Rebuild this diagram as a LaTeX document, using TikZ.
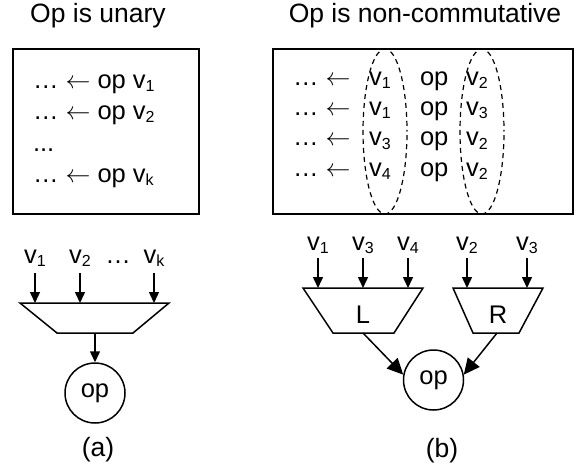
\documentclass[tikz,border=0pt]{standalone}
\usepackage{fontspec}
\setmainfont{Liberation Sans}
\usetikzlibrary{arrows.meta,shapes.geometric}
% lowered index after a variable name
\newcommand\idx[1]{\raisebox{-3pt}{\fontsize{16}{16}\selectfont #1}}
% long thin assignment arrow
\newcommand\assignarrow{$\leftarrow$}
\tikzset{
  txt/.style={inner sep=0pt, outer sep=0pt, font=\fontsize{25.5}{30}\selectfont},
  head/.style={inner sep=0pt, outer sep=0pt, font=\fontsize{26.5}{30}\selectfont},
  rowtxt/.style={txt, anchor=base west},
  frame/.style={draw, line width=1.8pt, inner sep=0pt, minimum width=#1, minimum height=165pt},
  group/.style={dash pattern=on 5pt off 4pt, dash phase=3.4pt, line width=1.2pt},
  mux/.style={line width=1.5pt, line join=miter},
  opnode/.style={draw, circle, line width=1.5pt, minimum size=60pt, inner sep=0pt,
    font=\fontsize{25.5}{30}\selectfont},
  feed/.style={line width=1.5pt, -{Triangle[length=11pt,width=10pt]}},
  merge/.style={line width=1.5pt, -{Triangle[length=16pt,width=15pt]}}
}
\begin{document}
\begin{tikzpicture}[x=1pt,y=-1pt]
\useasboundingbox (0,0) rectangle (575,468);

% ---------- (a) unary operation ----------
\node[head] (titleA) at (98,16) {Op is unary};
\node[frame=186pt] (boxA) at (106,131.5) {};
\node[rowtxt] (ra1) at (33,89)  {… \assignarrow\ op v\idx{1}};
\node[rowtxt] (ra2) at (33,120) {… \assignarrow\ op v\idx{2}};
\node[rowtxt] (ra3) at (33,151) {...};
\node[rowtxt] (ra4) at (33,182) {… \assignarrow\ op v\idx{k}};

\node[txt, anchor=base] (ia1) at (35,263)  {v\idx{1}};
\node[txt, anchor=base] (ia2) at (80,263)  {v\idx{2}};
\node[txt, anchor=base] (iadots) at (118,263) {…};
\node[txt, anchor=base] (iak) at (154,263) {v\idx{k}};

\coordinate (Atl) at (20,303);
\coordinate (Atr) at (169,303);
\coordinate (Abr) at (133,333);
\coordinate (Abl) at (57,333);
\coordinate (Aout) at (95,333);
\draw[mux] (Atl) -- (Atr) -- (Abr) -- (Abl) -- cycle;

\foreach \n in {ia1,ia2,iak}
  \draw[feed] ([yshift=-10pt]\n.base) -- (\n.base |- Atl);

\node[opnode] (opA) at (95,393) {op};
\draw[feed] (Aout) -- (opA.north);
\node[head] (capA) at (98,450) {(a)};

% ---------- (b) non-commutative operation ----------
\node[head] (titleB) at (425,16) {Op is non-commutative};
\node[frame=300pt] (boxB) at (423,131.5) {};

\foreach \y/\l/\r [count=\i] in {86/1/2, 116/1/3, 146/3/2, 176/4/2} {
  \node[rowtxt] (rb\i) at (293,\y) {… \assignarrow};
  \node[rowtxt] (rbl\i) at (369,\y) {v\idx{\l}};
  \node[rowtxt] (rbo\i) at (420,\y) {op};
  \node[rowtxt] (rbr\i) at (466,\y) {v\idx{\r}};
}
% operand columns
\coordinate (grpL) at (385,131.5);
\coordinate (grpR) at (482,131.5);
\draw[group] (grpL) ellipse [x radius=22pt, y radius=82.5pt];
\draw[group] (grpR) ellipse [x radius=22pt, y radius=82.5pt];

\node[txt, anchor=base] (ib1) at (318,250) {v\idx{1}};
\node[txt, anchor=base] (ib2) at (363,250) {v\idx{3}};
\node[txt, anchor=base] (ib3) at (408,250) {v\idx{4}};
\node[txt, anchor=base] (ib4) at (467,250) {v\idx{2}};
\node[txt, anchor=base] (ib5) at (527,250) {v\idx{3}};

\coordinate (Ltl) at (303,288);
\coordinate (Ltr) at (423,288);
\coordinate (Lbr) at (394,333);
\coordinate (Lbl) at (333,333);
\coordinate (Lout) at (363,333);
\draw[mux] (Ltl) -- (Ltr) -- (Lbr) -- (Lbl) -- cycle;
\node[txt] (Lname) at (363,315) {L};

\coordinate (Rtl) at (453,288);
\coordinate (Rtr) at (543,288);
\coordinate (Rbr) at (519,333);
\coordinate (Rbl) at (473,333);
\coordinate (Rout) at (497,333);
\draw[mux] (Rtl) -- (Rtr) -- (Rbr) -- (Rbl) -- cycle;
\node[txt] (Rname) at (498,315) {R};

\foreach \n in {ib1,ib2,ib3,ib4,ib5}
  \draw[feed] ([yshift=-8pt]\n.base) -- (\n.base |- Ltl);

\node[opnode] (opB) at (433.5,380) {op};
\draw[merge] (Lout) -- (opB.170);
\draw[merge] (Rout) -- (opB.10);
\node[head] (capB) at (442,451) {(b)};
\end{tikzpicture}
\end{document}
